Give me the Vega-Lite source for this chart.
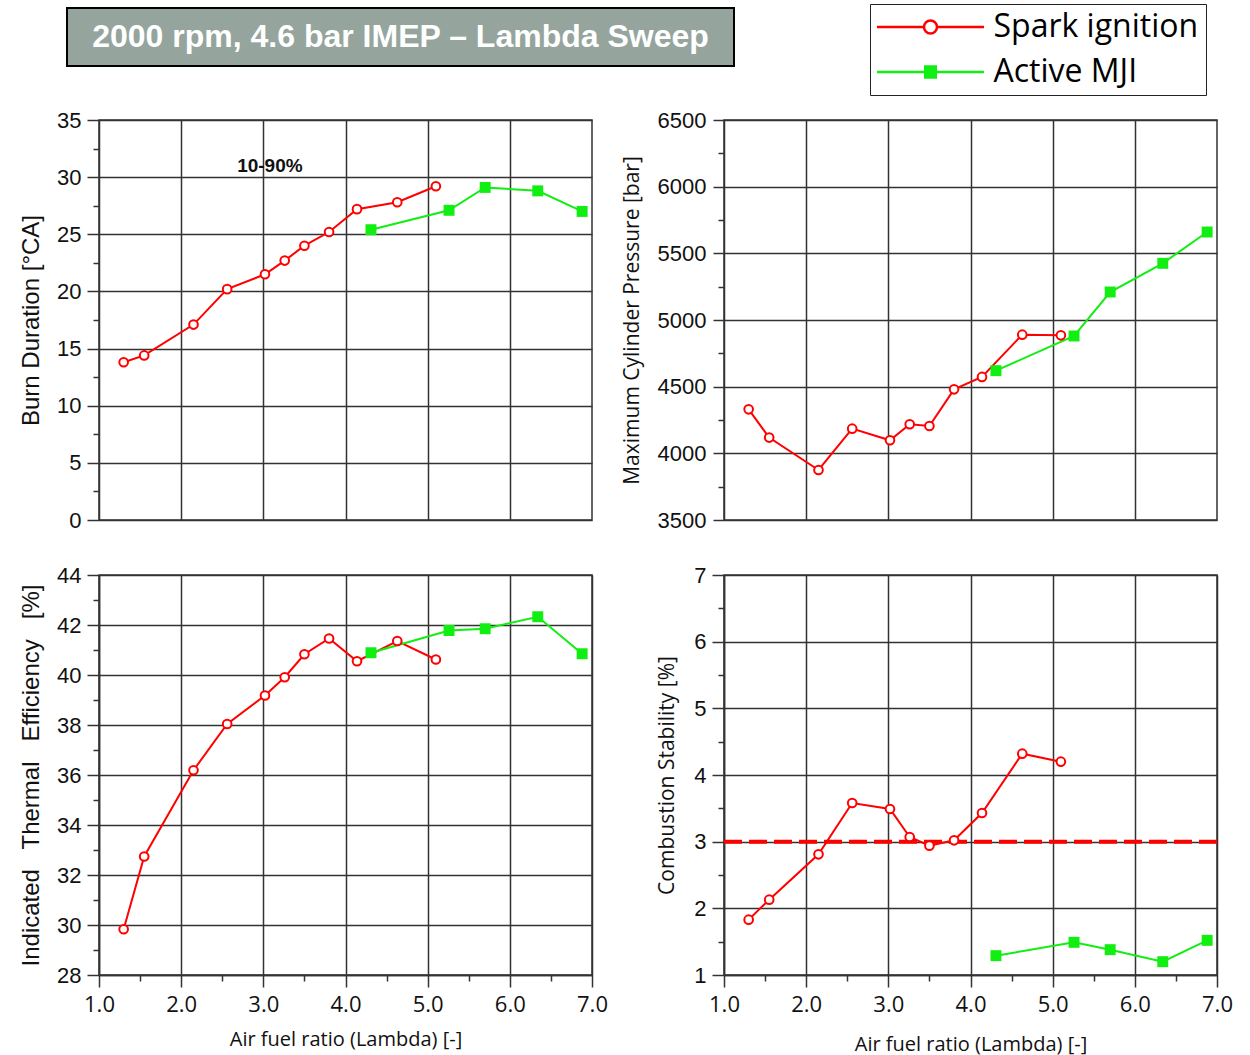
{
  "$schema": "https://vega.github.io/schema/vega-lite/v6.json",
  "background": "white",
  "autosize": {"type": "pad"},
  "padding": {"left": 18, "top": 3, "right": 5, "bottom": 0},
  "config": {
    "view": {"stroke": "#333333", "strokeWidth": 1.5},
    "axis": {
      "labelFont": "Liberation Sans", "labelFontSize": 22, "labelColor": "#111111",
      "titleFont": "Liberation Sans", "titleFontSize": 24, "titleFontWeight": "normal", "titleColor": "#111111",
      "gridColor": "#333333", "gridWidth": 1.5,
      "domainColor": "#333333", "domainWidth": 1.5,
      "tickColor": "#333333", "tickWidth": 1.5,
      "labelFlush": false, "labelOverlap": false
    }
  },
  "datasets": {
    "burn": [
      {"series": "Spark ignition", "lambda": 1.30, "value": 13.8},
      {"series": "Spark ignition", "lambda": 1.55, "value": 14.4},
      {"series": "Spark ignition", "lambda": 2.15, "value": 17.1},
      {"series": "Spark ignition", "lambda": 2.56, "value": 20.2},
      {"series": "Spark ignition", "lambda": 3.02, "value": 21.5},
      {"series": "Spark ignition", "lambda": 3.26, "value": 22.7},
      {"series": "Spark ignition", "lambda": 3.50, "value": 24.0},
      {"series": "Spark ignition", "lambda": 3.80, "value": 25.2},
      {"series": "Spark ignition", "lambda": 4.14, "value": 27.2},
      {"series": "Spark ignition", "lambda": 4.63, "value": 27.8},
      {"series": "Spark ignition", "lambda": 5.10, "value": 29.2},
      {"series": "Active MJI", "lambda": 4.31, "value": 25.4},
      {"series": "Active MJI", "lambda": 5.26, "value": 27.1},
      {"series": "Active MJI", "lambda": 5.70, "value": 29.1},
      {"series": "Active MJI", "lambda": 6.34, "value": 28.8},
      {"series": "Active MJI", "lambda": 6.88, "value": 27.0}
    ],
    "pmax": [
      {"series": "Spark ignition", "lambda": 1.30, "value": 4330},
      {"series": "Spark ignition", "lambda": 1.55, "value": 4118},
      {"series": "Spark ignition", "lambda": 2.15, "value": 3875},
      {"series": "Spark ignition", "lambda": 2.56, "value": 4185},
      {"series": "Spark ignition", "lambda": 3.02, "value": 4098},
      {"series": "Spark ignition", "lambda": 3.26, "value": 4218},
      {"series": "Spark ignition", "lambda": 3.50, "value": 4205},
      {"series": "Spark ignition", "lambda": 3.80, "value": 4480},
      {"series": "Spark ignition", "lambda": 4.14, "value": 4573},
      {"series": "Spark ignition", "lambda": 4.63, "value": 4890},
      {"series": "Spark ignition", "lambda": 5.10, "value": 4885},
      {"series": "Active MJI", "lambda": 4.31, "value": 4620},
      {"series": "Active MJI", "lambda": 5.26, "value": 4880},
      {"series": "Active MJI", "lambda": 5.70, "value": 5210},
      {"series": "Active MJI", "lambda": 6.34, "value": 5425},
      {"series": "Active MJI", "lambda": 6.88, "value": 5660}
    ],
    "ite": [
      {"series": "Spark ignition", "lambda": 1.30, "value": 29.83},
      {"series": "Spark ignition", "lambda": 1.55, "value": 32.74},
      {"series": "Spark ignition", "lambda": 2.15, "value": 36.19},
      {"series": "Spark ignition", "lambda": 2.56, "value": 38.04},
      {"series": "Spark ignition", "lambda": 3.02, "value": 39.18},
      {"series": "Spark ignition", "lambda": 3.26, "value": 39.91},
      {"series": "Spark ignition", "lambda": 3.50, "value": 40.83},
      {"series": "Spark ignition", "lambda": 3.80, "value": 41.46},
      {"series": "Spark ignition", "lambda": 4.14, "value": 40.55},
      {"series": "Spark ignition", "lambda": 4.63, "value": 41.36},
      {"series": "Spark ignition", "lambda": 5.10, "value": 40.62},
      {"series": "Active MJI", "lambda": 4.31, "value": 40.89},
      {"series": "Active MJI", "lambda": 5.26, "value": 41.78},
      {"series": "Active MJI", "lambda": 5.70, "value": 41.85},
      {"series": "Active MJI", "lambda": 6.34, "value": 42.33},
      {"series": "Active MJI", "lambda": 6.88, "value": 40.85}
    ],
    "cov": [
      {"series": "Spark ignition", "lambda": 1.30, "value": 1.83},
      {"series": "Spark ignition", "lambda": 1.55, "value": 2.13},
      {"series": "Spark ignition", "lambda": 2.15, "value": 2.81},
      {"series": "Spark ignition", "lambda": 2.56, "value": 3.58},
      {"series": "Spark ignition", "lambda": 3.02, "value": 3.49},
      {"series": "Spark ignition", "lambda": 3.26, "value": 3.07},
      {"series": "Spark ignition", "lambda": 3.50, "value": 2.94},
      {"series": "Spark ignition", "lambda": 3.80, "value": 3.02},
      {"series": "Spark ignition", "lambda": 4.14, "value": 3.43},
      {"series": "Spark ignition", "lambda": 4.63, "value": 4.32},
      {"series": "Spark ignition", "lambda": 5.10, "value": 4.20},
      {"series": "Active MJI", "lambda": 4.31, "value": 1.29},
      {"series": "Active MJI", "lambda": 5.26, "value": 1.49},
      {"series": "Active MJI", "lambda": 5.70, "value": 1.38},
      {"series": "Active MJI", "lambda": 6.34, "value": 1.20},
      {"series": "Active MJI", "lambda": 6.88, "value": 1.52}
    ]
  },
  "bounds": "full",
  "spacing": 41,
  "vconcat": [
    {
      "width": 667,
      "height": 58,
      "view": {"fill": "#95a59d", "stroke": "black", "strokeWidth": 2},
      "data": {"values": [{"label": "2000 rpm, 4.6 bar IMEP – Lambda Sweep"}]},
      "layer": [
        {
          "mark": {"type": "text", "color": "white", "font": "Liberation Sans", "fontWeight": "bold", "fontSize": 32, "align": "center", "baseline": "middle"},
          "encoding": {"text": {"field": "label"}}
        },
        {
          "data": {"values": [{"series": "Spark ignition"}, {"series": "Active MJI"}]},
          "mark": {"type": "point", "opacity": 0, "strokeWidth": 2.5, "filled": false},
          "encoding": {
            "shape": {"field": "series", "type": "nominal",
              "scale": {"domain": ["Spark ignition", "Active MJI"], "range": ["M-5.35,0H-0.65M0.65,0H5.35M-0.65,0A0.65,0.65,0,1,0,0.65,0A0.65,0.65,0,1,0,-0.65,0Z", "M-5.35,0H5.35M-0.65,-0.55H0.65M-0.65,-0.33H0.65M-0.65,-0.11H0.65M-0.65,0.11H0.65M-0.65,0.33H0.65M-0.65,0.55H0.65"]},
              "legend": {"orient": "none", "legendX": 803, "legendY": -4, "title": null, "symbolSize": 400, "symbolStrokeWidth": 2.5, "symbolOffset": 37.5, "labelFont": "Open Sans", "labelFontSize": 32, "labelColor": "black", "labelOffset": 47, "rowPadding": 13, "padding": 7, "strokeColor": "#222222", "fillColor": "white", "labelLimit": 500}},
            "stroke": {"field": "series", "type": "nominal",
              "scale": {"domain": ["Spark ignition", "Active MJI"], "range": ["#ff0000", "#11ee11"]},
              "legend": {"orient": "none", "legendX": 803, "legendY": -4, "title": null, "symbolSize": 400, "symbolStrokeWidth": 2.5, "symbolOffset": 37.5, "labelFont": "Open Sans", "labelFontSize": 32, "labelColor": "black", "labelOffset": 47, "rowPadding": 13, "padding": 7, "strokeColor": "#222222", "fillColor": "white", "labelLimit": 500}}
          }
        }
      ]
    },
    {
      "bounds": "flush",
      "spacing": 30,
      "hconcat": [
        {
          "width": 2, "height": 2,
          "view": {"stroke": null},
          "data": {"values": [{"blank": ""}]},
          "mark": {"type": "text"},
          "encoding": {"text": {"field": "blank"}}
        },
        {
          "columns": 2,
          "bounds": "flush",
          "spacing": {"row": 55, "column": 132},
          "concat": [
            {
              "width": 493, "height": 400,
              "data": {"name": "burn"},
              "encoding": {
                "x": {"field": "lambda", "type": "quantitative", "scale": {"domain": [1, 7], "nice": false, "zero": false},
                  "axis": {"values": [2, 3, 4, 5, 6], "labels": false, "ticks": false, "domain": false, "title": null}},
                "y": {"field": "value", "type": "quantitative", "scale": {"domain": [0, 35], "nice": false, "zero": false},
                  "axis": {"title": "Burn Duration [°CA]", "values": [0, 2.5, 5, 7.5, 10, 12.5, 15, 17.5, 20, 22.5, 25, 27.5, 30, 32.5, 35],
                    "labelExpr": "datum.value % 5 === 0 ? format(datum.value, 'd') : ''",
                    "gridOpacity": {"condition": {"test": "datum.value % 5 === 0", "value": 1}, "value": 0},
                    "tickSize": {"condition": {"test": "datum.value % 5 === 0", "value": 12}, "value": 6},
                    "labelPadding": 6, "titlePadding": 13}}
              },
              "layer": [
                {"mark": {"type": "line", "strokeWidth": 2},
                 "encoding": {"color": {"field": "series", "type": "nominal", "scale": {"domain": ["Spark ignition", "Active MJI"], "range": ["#ff0000", "#11ee11"]}, "legend": null}}},
                {"transform": [{"filter": "datum.series === 'Spark ignition'"}],
                 "mark": {"type": "point", "shape": "circle", "filled": true, "fill": "white", "stroke": "#ff0000", "strokeWidth": 2, "size": 75, "opacity": 1}},
                {"transform": [{"filter": "datum.series === 'Active MJI'"}],
                 "mark": {"type": "square", "filled": true, "color": "#11ee11", "size": 120, "opacity": 1}},
                {"data": {"values": [{"lambda": 3.08, "value": 31.0, "note": "10-90%"}]},
                 "mark": {"type": "text", "font": "Liberation Sans", "fontWeight": "bold", "fontSize": 19, "color": "#111111"},
                 "encoding": {"text": {"field": "note"}}}
              ]
            },
            {
              "width": 493, "height": 400,
              "data": {"name": "pmax"},
              "encoding": {
                "x": {"field": "lambda", "type": "quantitative", "scale": {"domain": [1, 7], "nice": false, "zero": false},
                  "axis": {"values": [2, 3, 4, 5, 6], "labels": false, "ticks": false, "domain": false, "title": null}},
                "y": {"field": "value", "type": "quantitative", "scale": {"domain": [3500, 6500], "nice": false, "zero": false},
                  "axis": {"title": "Maximum Cylinder Pressure [bar]", "values": [3500, 3750, 4000, 4250, 4500, 4750, 5000, 5250, 5500, 5750, 6000, 6250, 6500],
                    "labelExpr": "datum.value % 500 === 0 ? format(datum.value, 'd') : ''",
                    "gridOpacity": {"condition": {"test": "datum.value % 500 === 0", "value": 1}, "value": 0},
                    "tickSize": {"condition": {"test": "datum.value % 500 === 0", "value": 11}, "value": 6},
                    "labelPadding": 7, "titlePadding": 15, "titleFont": "Open Sans", "titleFontSize": 21}}
              },
              "layer": [
                {"mark": {"type": "line", "strokeWidth": 2},
                 "encoding": {"color": {"field": "series", "type": "nominal", "scale": {"domain": ["Spark ignition", "Active MJI"], "range": ["#ff0000", "#11ee11"]}, "legend": null}}},
                {"transform": [{"filter": "datum.series === 'Spark ignition'"}],
                 "mark": {"type": "point", "shape": "circle", "filled": true, "fill": "white", "stroke": "#ff0000", "strokeWidth": 2, "size": 75, "opacity": 1}},
                {"transform": [{"filter": "datum.series === 'Active MJI'"}],
                 "mark": {"type": "square", "filled": true, "color": "#11ee11", "size": 120, "opacity": 1}}
              ]
            },
            {
              "width": 493, "height": 400,
              "data": {"name": "ite"},
              "encoding": {
                "x": {"field": "lambda", "type": "quantitative", "scale": {"domain": [1, 7], "nice": false, "zero": false},
                  "axis": {"title": "Air fuel ratio (Lambda) [-]", "values": [1, 1.5, 2, 2.5, 3, 3.5, 4, 4.5, 5, 5.5, 6, 6.5, 7],
                    "labelExpr": "datum.value % 1 === 0 ? format(datum.value, '.1f') : ''",
                    "gridOpacity": {"condition": {"test": "datum.value % 1 === 0", "value": 1}, "value": 0},
                    "tickSize": {"condition": {"test": "datum.value % 1 === 0", "value": 12}, "value": 6},
                    "labelFont": "Open Sans", "labelFontSize": 22, "labelPadding": 7, "titleFont": "Open Sans", "titleFontSize": 20, "titlePadding": 14}},
                "y": {"field": "value", "type": "quantitative", "scale": {"domain": [28, 44], "nice": false, "zero": false},
                  "axis": {"title": "Indicated \u00a0 Thermal \u00a0 Efficiency \u00a0 [%]", "values": [28, 29, 30, 31, 32, 33, 34, 35, 36, 37, 38, 39, 40, 41, 42, 43, 44],
                    "labelExpr": "datum.value % 2 === 0 ? format(datum.value, 'd') : ''",
                    "gridOpacity": {"condition": {"test": "datum.value % 2 === 0", "value": 1}, "value": 0},
                    "tickSize": {"condition": {"test": "datum.value % 2 === 0", "value": 12}, "value": 6},
                    "labelPadding": 6, "titlePadding": 13}}
              },
              "layer": [
                {"mark": {"type": "line", "strokeWidth": 2},
                 "encoding": {"color": {"field": "series", "type": "nominal", "scale": {"domain": ["Spark ignition", "Active MJI"], "range": ["#ff0000", "#11ee11"]}, "legend": null}}},
                {"transform": [{"filter": "datum.series === 'Spark ignition'"}],
                 "mark": {"type": "point", "shape": "circle", "filled": true, "fill": "white", "stroke": "#ff0000", "strokeWidth": 2, "size": 75, "opacity": 1}},
                {"transform": [{"filter": "datum.series === 'Active MJI'"}],
                 "mark": {"type": "square", "filled": true, "color": "#11ee11", "size": 120, "opacity": 1}}
              ]
            },
            {
              "width": 493, "height": 400,
              "data": {"name": "cov"},
              "encoding": {
                "x": {"field": "lambda", "type": "quantitative", "scale": {"domain": [1, 7], "nice": false, "zero": false},
                  "axis": {"title": "Air fuel ratio (Lambda) [-]", "values": [1, 1.5, 2, 2.5, 3, 3.5, 4, 4.5, 5, 5.5, 6, 6.5, 7],
                    "labelExpr": "datum.value % 1 === 0 ? format(datum.value, '.1f') : ''",
                    "gridOpacity": {"condition": {"test": "datum.value % 1 === 0", "value": 1}, "value": 0},
                    "tickSize": {"condition": {"test": "datum.value % 1 === 0", "value": 12}, "value": 6},
                    "labelFont": "Open Sans", "labelFontSize": 22, "labelPadding": 7, "titleFont": "Open Sans", "titleFontSize": 20, "titlePadding": 19}},
                "y": {"field": "value", "type": "quantitative", "scale": {"domain": [1, 7], "nice": false, "zero": false},
                  "axis": {"title": "Combustion Stability [%]", "values": [1, 1.5, 2, 2.5, 3, 3.5, 4, 4.5, 5, 5.5, 6, 6.5, 7],
                    "labelExpr": "datum.value % 1 === 0 ? format(datum.value, 'd') : ''",
                    "gridOpacity": {"condition": {"test": "datum.value % 1 === 0", "value": 1}, "value": 0},
                    "tickSize": {"condition": {"test": "datum.value % 1 === 0", "value": 12}, "value": 6},
                    "labelPadding": 6, "titlePadding": 16, "titleFont": "Open Sans", "titleFontSize": 21}}
              },
              "layer": [
                {"data": {"values": [{"limit": 3}]},
                 "mark": {"type": "rule", "color": "#ff0000", "strokeWidth": 4, "strokeDash": [18, 7]},
                 "encoding": {"y": {"field": "limit", "type": "quantitative"}, "x": null}},
                {"mark": {"type": "line", "strokeWidth": 2},
                 "encoding": {"color": {"field": "series", "type": "nominal", "scale": {"domain": ["Spark ignition", "Active MJI"], "range": ["#ff0000", "#11ee11"]}, "legend": null}}},
                {"transform": [{"filter": "datum.series === 'Spark ignition'"}],
                 "mark": {"type": "point", "shape": "circle", "filled": true, "fill": "white", "stroke": "#ff0000", "strokeWidth": 2, "size": 75, "opacity": 1}},
                {"transform": [{"filter": "datum.series === 'Active MJI'"}],
                 "mark": {"type": "square", "filled": true, "color": "#11ee11", "size": 120, "opacity": 1}}
              ]
            }
          ]
        }
      ]
    }
  ]
}
